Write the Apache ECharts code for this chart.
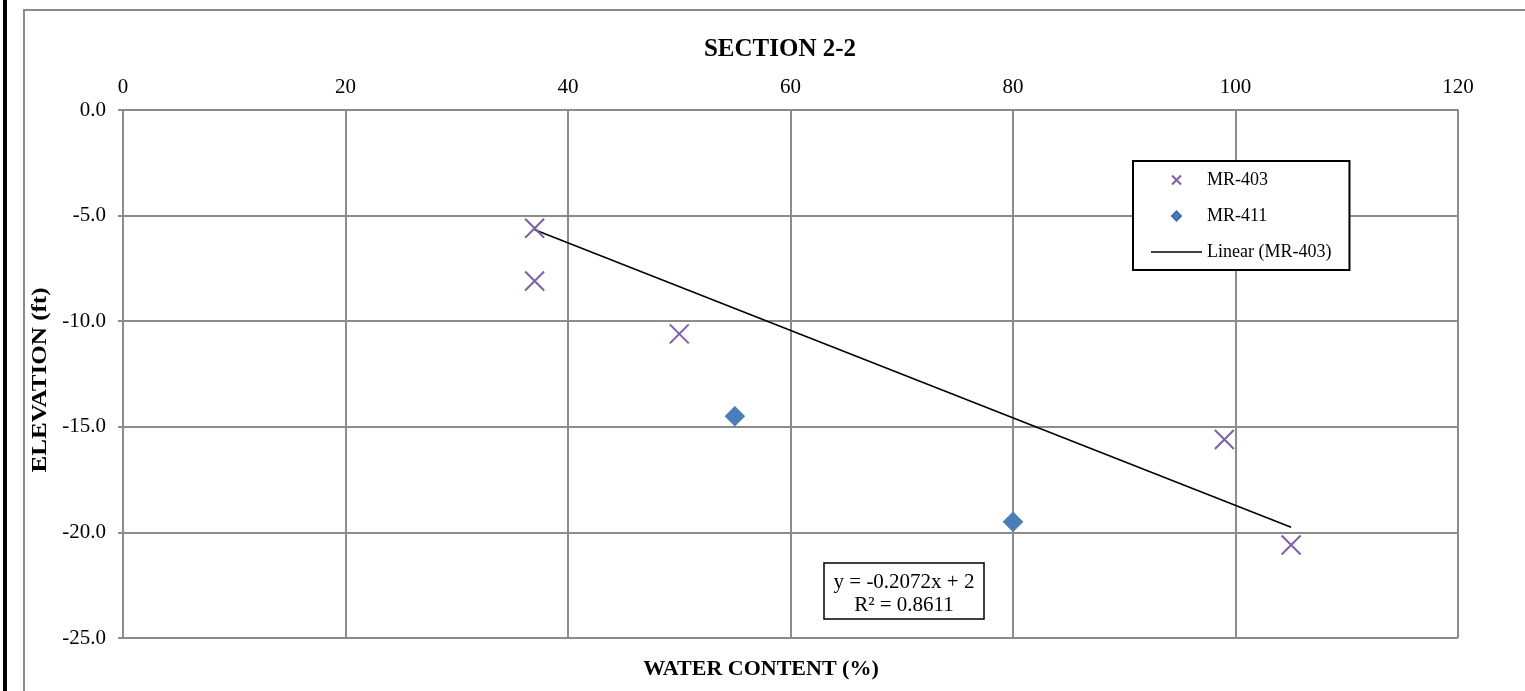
<!DOCTYPE html>
<html><head><meta charset="utf-8">
<script src="https://cdn.jsdelivr.net/npm/echarts@6/dist/echarts.min.js"></script>
<style>html,body{margin:0;padding:0;background:#fff}#c{width:1525px;height:691px}</style>
</head><body><div id="c"></div>
<script>
const mr403X = [37, 37, 50, 99, 105];
const mr403Y = [-5.6, -8.1, -10.6, -15.6, -20.6];
const mr411X = [55, 80];
const mr411Y = [-14.5, -19.5];
const trendSlope = -0.2072;
const trendIntercept = 2;
const trendR2 = 0.8611;
const xTicks = [0, 20, 40, 60, 80, 100, 120];
const yTicks = [0, -5, -10, -15, -20, -25];

const font = 'Liberation Serif';
const xMin = Math.min(...mr403X), xMax = Math.max(...mr403X);
const trendData = [[xMin, trendSlope * xMin + trendIntercept], [xMax, trendSlope * xMax + trendIntercept]];
const xPath = 'path://M0,0L10,10M10,0L0,10';
const diamondPath = 'path://M5,0L10,5L5,10L0,5Z';
const linePath = 'path://M0,0L100,0L100,3.2L0,3.2Z';

const chart = echarts.init(document.getElementById('c'));
chart.setOption({
  animation: false,
  backgroundColor: '#fff',
  title: { text: 'SECTION 2-2', left: 775, top: 32, textAlign: 'center',
    textStyle: { fontFamily: font, fontSize: 25, fontWeight: 'bold', color: '#000' } },
  grid: { left: 123, top: 110, width: 1335, height: 528, show: false },
  xAxis: {
    type: 'value', position: 'top', min: xTicks[0], max: xTicks[xTicks.length - 1], interval: 20,
    axisLine: { show: true, lineStyle: { color: '#8c8c8c', width: 2 } },
    axisTick: { show: false },
    axisLabel: { fontFamily: font, fontSize: 21, color: '#000', margin: 12 },
    splitLine: { show: true, lineStyle: { color: '#8c8c8c', width: 2 } }
  },
  yAxis: {
    type: 'value', min: yTicks[yTicks.length - 1], max: yTicks[0], interval: 5,
    axisLine: { show: true, onZero: false, lineStyle: { color: '#8c8c8c', width: 2 } },
    axisTick: { show: true, inside: false, length: 5, lineStyle: { color: '#8c8c8c', width: 2 } },
    axisLabel: { fontFamily: font, fontSize: 21, color: '#000', margin: 17, formatter: v => v.toFixed(1) },
    splitLine: { show: true, lineStyle: { color: '#8c8c8c', width: 2 } }
  },
  legend: {
    orient: 'vertical', left: 1133, top: 161,
    backgroundColor: '#fff', borderColor: '#000', borderWidth: 2,
    padding: [10, 18, 9, 18], itemGap: 18, itemWidth: 51, itemHeight: 9,
    textStyle: { fontFamily: font, fontSize: 18, lineHeight: 18, color: '#000' },
    data: [
      { name: 'MR-403', icon: xPath },
      { name: 'MR-411', icon: diamondPath },
      { name: 'Linear (MR-403)', icon: linePath, itemStyle: { color: '#000' } }
    ]
  },
  series: [
    { name: 'Linear (MR-403)', type: 'line', data: trendData, symbol: 'none', z: 3, symbolKeepAspect: true,
      lineStyle: { color: '#000', width: 1.6 }, itemStyle: { color: '#000' } },
    { name: 'MR-403', type: 'scatter', data: mr403X.map((x, i) => [x, mr403Y[i]]), z: 4,
      symbol: xPath, symbolSize: 19, symbolKeepAspect: true,
      itemStyle: { color: 'transparent', borderColor: '#7D5FA6', borderWidth: 2, opacity: 1 } },
    { name: 'MR-411', type: 'scatter', data: mr411X.map((x, i) => [x, mr411Y[i]]), z: 4,
      symbol: diamondPath, symbolSize: 20, symbolKeepAspect: true,
      itemStyle: { color: '#4A7EBB', borderColor: '#3d6da6', borderWidth: 0.5, opacity: 1 } }
  ],
  graphic: [
    { type: 'rect', shape: { x: 3, y: 0, width: 4, height: 691 }, style: { fill: '#000' }, silent: true },
    { type: 'rect', shape: { x: 24, y: 10, width: 1600, height: 800 }, style: { fill: 'none', stroke: '#8c8c8c', lineWidth: 2 }, silent: true, z: -1 },
    { type: 'text', x: 40, y: 380, rotation: Math.PI / 2, scaleX: 1.14, style: { text: 'ELEVATION (ft)', fontFamily: font, fontSize: 22, fontWeight: 'bold', fill: '#000', align: 'center', verticalAlign: 'middle' } },
    { type: 'text', x: 761, y: 669, style: { text: 'WATER CONTENT (%)', fontFamily: font, fontSize: 22, fontWeight: 'bold', fill: '#000', align: 'center', verticalAlign: 'middle' } },
    { type: 'rect', shape: { x: 824, y: 563, width: 160, height: 56 }, style: { fill: '#fff', stroke: '#000', lineWidth: 1.5 }, z: 10 },
    { type: 'text', x: 904, y: 594, z: 11, style: { text: 'y = ' + trendSlope + 'x + ' + trendIntercept + '\nR² = ' + trendR2, fontFamily: font, fontSize: 21, lineHeight: 23, fill: '#000', align: 'center', verticalAlign: 'middle' } }
  ]
});
</script></body></html>
